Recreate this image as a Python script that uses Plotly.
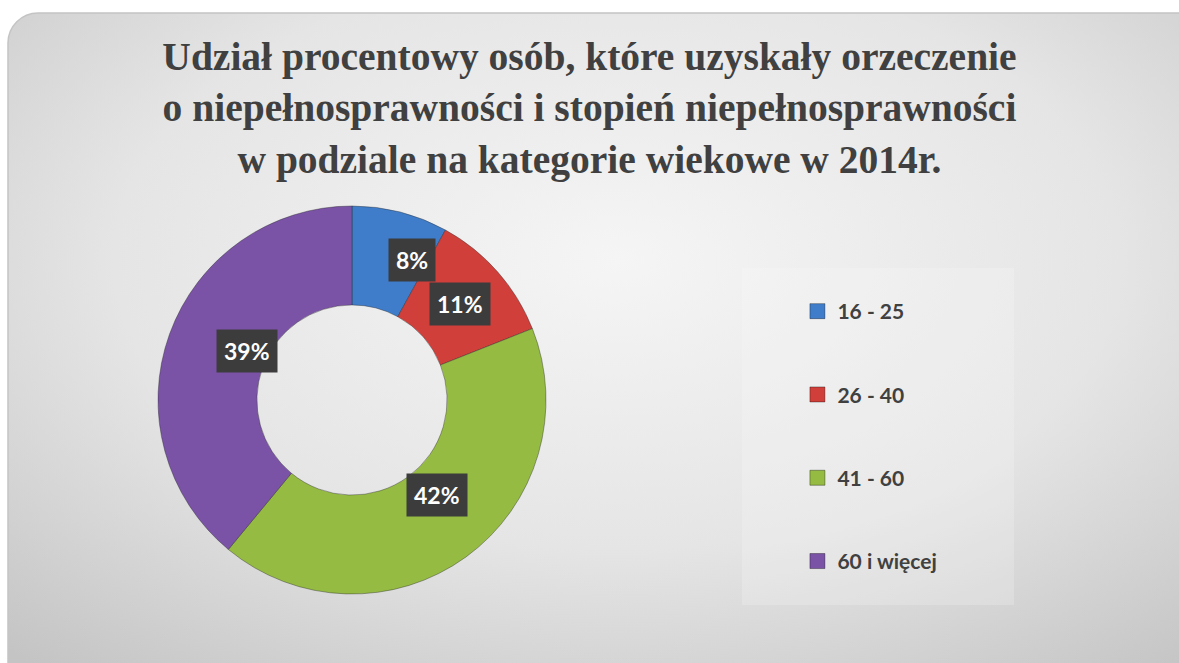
import base64, math
import plotly.graph_objects as go

# ---- data ----
categories = ["16 - 25", "26 - 40", "41 - 60", "60 i więcej"]
values = [8, 11, 42, 39]
colors = ["#3F7DCB", "#D13F3A", "#95BB43", "#7A53A6"]
title_lines = [
    "Udział procentowy osób, które uzyskały orzeczenie",
    "o niepełnosprawności i stopień niepełnosprawności",
    "w podziale na kategorie wiekowe w 2014r.",
]

W, H = 1179, 663
cx, cy, R, hole = 352, 400, 194, 0.49

# background (rounded gradient panel) as SVG
svg = f'''<svg xmlns="http://www.w3.org/2000/svg" width="{W}" height="{H}" viewBox="0 0 {W} {H}">
<defs><radialGradient id="g" cx="50%" cy="35%" r="75%">
<stop offset="0%" stop-color="#f5f5f5"/><stop offset="55%" stop-color="#e5e5e5"/><stop offset="100%" stop-color="#c4c4c4"/>
</radialGradient></defs>
<rect x="0" y="0" width="{W}" height="{H}" fill="#ffffff"/>
<rect x="8" y="13" width="{W+40}" height="{H+40}" rx="30" ry="30" fill="url(#g)" stroke="#c4c4c4" stroke-width="1.5"/>
</svg>'''
bg = "data:image/svg+xml;base64," + base64.b64encode(svg.encode()).decode()

fig = go.Figure()
fig.add_trace(go.Pie(
    labels=categories, values=values, hole=hole, sort=False, direction="clockwise",
    rotation=0, textinfo="none", showlegend=False,
    marker=dict(colors=colors, line=dict(color="rgba(40,40,40,0.4)", width=1)),
    domain=dict(x=[(cx - R) / W, (cx + R) / W], y=[1 - (cy + R) / H, 1 - (cy - R) / H]),
    hoverinfo="label+percent",
))

# legend entries
for i, (c, col) in enumerate(zip(categories, colors)):
    fig.add_trace(go.Scatter(
        x=[None], y=[None], mode="markers", name=c, legendgroup=f"g{i}",
        marker=dict(symbol="square", size=15, color=col, line=dict(color="rgba(0,0,0,0.35)", width=1)),
    ))

# data labels in dark boxes at slice mid-angles
total = sum(values)
cum = 0
rmid = R * (1 + hole) / 2
annotations = []
for v in values:
    th = 2 * math.pi * (cum + v / 2) / total
    cum += v
    xp = cx + rmid * math.sin(th)
    yp = cy - rmid * math.cos(th)
    annotations.append(dict(
        x=xp / W, y=1 - yp / H, xref="paper", yref="paper", showarrow=False,
        text=f"<b>{round(100 * v / total)}%</b>",
        font=dict(family="Lato", size=23, color="white"),
        bgcolor="#3c3c3c", borderpad=7,
    ))

fig.update_layout(
    width=W, height=H, margin=dict(l=0, r=0, t=0, b=0),
    paper_bgcolor="white", plot_bgcolor="rgba(0,0,0,0)",
    xaxis=dict(visible=False), yaxis=dict(visible=False),
    title=dict(text="<br>".join(title_lines), x=0.5, xanchor="center", y=1 - 70 / H, yanchor="top",
               font=dict(family="Liberation Serif", size=39.5, color="#404040", weight="bold")),
    legend=dict(x=821 / W - 0.02, y=1 - 291 / H, xanchor="left", yanchor="top",
                bgcolor="rgba(0,0,0,0)", tracegroupgap=53,
                font=dict(family="Lato", size=21, color="#404040", weight="bold")),
    images=[dict(source=bg, xref="paper", yref="paper", x=0, y=1, sizex=1, sizey=1,
                 sizing="stretch", layer="below", xanchor="left", yanchor="top")],
    shapes=[dict(type="rect", xref="paper", yref="paper", x0=742 / W, x1=1014 / W,
                 y0=1 - 605 / H, y1=1 - 268 / H, line=dict(width=0),
                 fillcolor="rgba(250,250,250,0.22)", layer="below")],
    annotations=annotations,
)
fig.write_html("out.html", config={"displayModeBar": False},
               post_script="document.body.style.margin='0';document.body.style.overflow='hidden';")
